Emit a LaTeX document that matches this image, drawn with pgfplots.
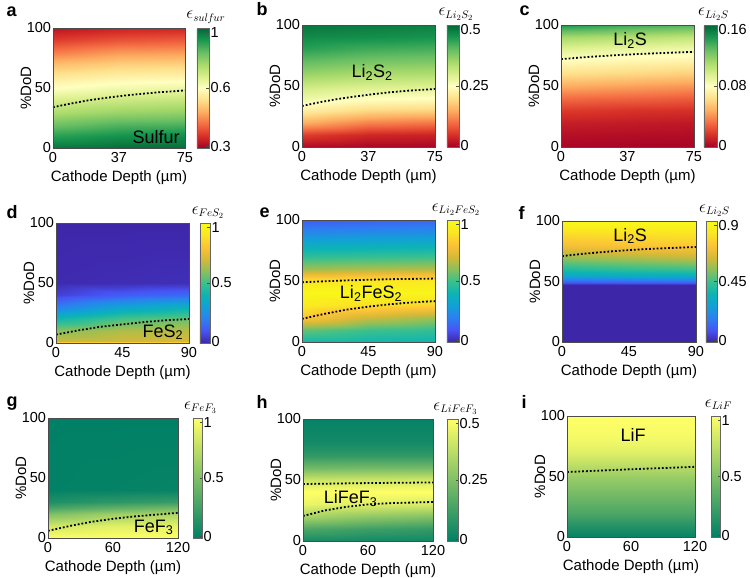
\documentclass[border=0pt]{standalone}
\usepackage{fontspec}
\setmainfont{Liberation Sans}
\usepackage{pgfplots}
\pgfplotsset{compat=1.18}

% colour maps
\pgfplotsset{
  colormap={rdylgn}{rgb255=(165,0,38) rgb255=(215,48,39) rgb255=(244,109,67) rgb255=(253,174,97) rgb255=(254,224,139) rgb255=(255,255,191) rgb255=(217,239,139) rgb255=(166,217,106) rgb255=(102,189,99) rgb255=(26,152,80) rgb255=(0,104,55)},
  colormap={parula}{rgb255=(62,38,168) rgb255=(71,84,245) rgb255=(44,128,240) rgb255=(18,160,215) rgb255=(12,180,180) rgb255=(60,192,140) rgb255=(140,192,90) rgb255=(215,185,55) rgb255=(252,195,55) rgb255=(250,230,35) rgb255=(249,251,21)},
  colormap={summer}{rgb255=(0,128,102) rgb255=(255,255,102)},
}

\newcommand\cbtitle[1]{\fontsize{16}{18}\selectfont$\epsilon_{#1}$}

\pgfplotsset{
  panel/.style={
    scale only axis, anchor=north west,
    enlargelimits=false, axis on top,
    ymin=0, ymax=100, ytick={0,50,100},
    axis line style={draw=black!70, line width=0.8pt},
    major tick length=0pt, tick style={draw=none},
    /pgf/number format/assume math mode=true,
    tick label style={font=\fontsize{14.5}{16}\selectfont},
    yticklabel style={xshift=1.5pt},
    xticklabel style={yshift=-0.5pt},
    xlabel={Cathode Depth (µm)},
    ylabel={\%DoD},
    label style={font=\fontsize{15}{17}\selectfont},
    xlabel style={at={([yshift=-30pt]axis description cs:0.5,0)}, anchor=center},
    ylabel style={at={([xshift=-27pt]axis description cs:0,0.5)}, anchor=center},
    colorbar right,
    colorbar style={
      at={(parent axis.north east)}, anchor=north west,
      axis line style={draw=black!60, line width=0.6pt},
      ytick pos=right, yticklabel pos=right,
      tick align=inside, major tick length=2.5pt,
      tick style={draw=black!70, line width=0.5pt},
      yticklabel style={font=\fontsize{14.5}{16}\selectfont, xshift=-2pt},
      scaled y ticks=false,
      title style={at={(0.5,1)}, anchor=base, yshift=3pt, xshift=3pt},
    },
  },
  heat/.style={surf, shader=interp, point meta=explicit},
  contour line/.style={black, line width=1.8pt, dash pattern=on 1.8pt off 2pt},
}
\tikzset{
  inlabel/.style={font=\fontsize{18}{20}\selectfont, text=black},
  letter/.style={anchor=base west, font=\bfseries\fontsize{18}{20}\selectfont},
}

\begin{document}
\begin{tikzpicture}
\path[use as bounding box] (0,0) rectangle (750pt,-578pt);

% ---------- a: sulfur ----------
\begin{axis}[panel, at={(53pt,-28pt)}, width=132pt, height=120pt,
  xmin=0, xmax=75, xtick={0,37.5,75}, xticklabels={0,37,75},
  colormap name=rdylgn, point meta min=0.3, point meta max=1,
  colorbar shift/.style={xshift=12pt},
  colorbar style={width=12pt, ytick={0.31,0.65,0.975}, yticklabels={0.3,0.6,1},
    title={\cbtitle{sul\mkern-1mu f\mkern-1mu ur}}}]
\addplot[heat, mesh/cols=3] table[row sep=\\, meta=v] {
x y v\\
0 0 0.979\\ 37.5 0 0.99\\ 75 0 0.99\\
0 10 0.916\\ 37.5 10 0.94\\ 75 10 0.95\\
0 20 0.846\\ 37.5 20 0.875\\ 75 20 0.88\\
0 30 0.776\\ 37.5 30 0.80\\ 75 30 0.81\\
0 40 0.72\\ 37.5 40 0.74\\ 75 40 0.75\\
0 50 0.65\\ 37.5 50 0.675\\ 75 50 0.685\\
0 60 0.594\\ 37.5 60 0.615\\ 75 60 0.62\\
0 70 0.531\\ 37.5 70 0.555\\ 75 70 0.56\\
0 80 0.454\\ 37.5 80 0.485\\ 75 80 0.49\\
0 90 0.384\\ 37.5 90 0.41\\ 75 90 0.42\\
0 100 0.328\\ 37.5 100 0.35\\ 75 100 0.355\\
};
\addplot[contour line] coordinates {(0,34) (10,37) (20,39.7) (30,41.8) (40,43.6) (50,45.1) (60,46.4) (75,48)};
\node[inlabel, anchor=base east] at (axis cs:74,4) {Sulfur};
\end{axis}

% ---------- b: Li2S2 ----------
\begin{axis}[panel, at={(302pt,-25pt)}, width=133pt, height=122pt,
  xmin=0, xmax=75, xtick={0,37.5,75}, xticklabels={0,37,75},
  colormap name=rdylgn, point meta min=0, point meta max=0.5,
  colorbar shift/.style={xshift=12pt},
  colorbar style={width=12pt, ytick={0.0075,0.25,0.4825}, yticklabels={0,0.25,0.5},
    title={\cbtitle{Li_2S_2}}}]
\addplot[heat, mesh/cols=3] table[row sep=\\, meta=v] {
x y v\\
0 0 0.01\\ 37.5 0 0.005\\ 75 0 0.005\\
0 10 0.06\\ 37.5 10 0.04\\ 75 10 0.035\\
0 20 0.15\\ 37.5 20 0.115\\ 75 20 0.105\\
0 30 0.225\\ 37.5 30 0.195\\ 75 30 0.19\\
0 40 0.275\\ 37.5 40 0.255\\ 75 40 0.25\\
0 50 0.315\\ 37.5 50 0.30\\ 75 50 0.295\\
0 60 0.36\\ 37.5 60 0.345\\ 75 60 0.34\\
0 70 0.40\\ 37.5 70 0.385\\ 75 70 0.38\\
0 80 0.44\\ 37.5 80 0.425\\ 75 80 0.42\\
0 90 0.465\\ 37.5 90 0.46\\ 75 90 0.455\\
0 100 0.485\\ 37.5 100 0.48\\ 75 100 0.475\\
};
\addplot[contour line] coordinates {(0,33.6) (10,36.7) (20,39.3) (30,41.4) (40,43.3) (50,44.9) (60,46.2) (75,47.5)};
\node[inlabel] at (axis cs:39.5,61) {Li\textsubscript{2}S\textsubscript{2}};
\end{axis}

% ---------- c: Li2S ----------
\begin{axis}[panel, at={(561pt,-25pt)}, width=133pt, height=122pt,
  xmin=0, xmax=75, xtick={0,37.5,75}, xticklabels={0,37,75},
  colormap name=rdylgn, point meta min=0, point meta max=0.16,
  colorbar shift/.style={xshift=10pt},
  colorbar style={width=13pt, ytick={0.0024,0.08,0.1544}, yticklabels={0,0.08,0.16},
    title={\cbtitle{Li_2S}}}]
\addplot[heat, mesh/cols=3] table[row sep=\\, meta=v] {
x y v\\
0 0 0.0016\\ 37.5 0 0.0013\\ 75 0 0.0012\\
0 10 0.005\\ 37.5 10 0.0045\\ 75 10 0.004\\
0 20 0.010\\ 37.5 20 0.009\\ 75 20 0.008\\
0 30 0.019\\ 37.5 30 0.017\\ 75 30 0.016\\
0 40 0.032\\ 37.5 40 0.030\\ 75 40 0.028\\
0 50 0.048\\ 37.5 50 0.045\\ 75 50 0.042\\
0 60 0.064\\ 37.5 60 0.061\\ 75 60 0.058\\
0 70 0.077\\ 37.5 70 0.074\\ 75 70 0.072\\
0 80 0.093\\ 37.5 80 0.089\\ 75 80 0.086\\
0 90 0.112\\ 37.5 90 0.108\\ 75 90 0.104\\
0 100 0.144\\ 37.5 100 0.137\\ 75 100 0.132\\
};
\addplot[contour line] coordinates {(0,72) (15,73.8) (30,75.2) (45,76.3) (60,77.2) (75,78)};
\node[inlabel] at (axis cs:39,87) {Li\textsubscript{2}S};
\end{axis}

% ---------- d: FeS2 ----------
\begin{axis}[panel, at={(56pt,-223pt)}, width=133pt, height=120pt,
  xmin=0, xmax=90, xtick={0,45,90},
  colormap name=parula, point meta min=0, point meta max=1,
  colorbar shift/.style={xshift=11pt},
  colorbar style={width=10pt, ytick={0.015,0.5,0.965}, yticklabels={0,0.5,1},
    title={\cbtitle{FeS_2}}}]
\addplot[heat, mesh/cols=3] table[row sep=\\, meta=v] {
x y v\\
0 0 0.95\\ 45 0 0.95\\ 90 0 0.95\\
0 2 0.68\\ 45 2 0.69\\ 90 2 0.70\\
0 10 0.60\\ 45 10 0.65\\ 90 10 0.66\\
0 20 0.42\\ 45 20 0.52\\ 90 20 0.56\\
0 30 0.20\\ 45 30 0.32\\ 90 30 0.38\\
0 40 0.06\\ 45 40 0.12\\ 90 40 0.15\\
0 50 0.01\\ 45 50 0.015\\ 90 50 0.02\\
0 100 0\\ 45 100 0\\ 90 100 0\\
};
\addplot[contour line] coordinates {(0,7) (15,10.5) (30,13.5) (45,15.5) (60,17.5) (75,19) (90,20)};
\node[inlabel, anchor=base east] at (axis cs:88.5,5) {FeS\textsubscript{2}};
\end{axis}

% ---------- e: Li2FeS2 ----------
\begin{axis}[panel, at={(302pt,-220pt)}, width=133pt, height=122pt,
  xmin=0, xmax=90, xtick={0,45,90},
  colormap name=parula, point meta min=0, point meta max=1,
  colorbar shift/.style={xshift=12pt},
  colorbar style={width=12pt, ytick={0.015,0.5,0.965}, yticklabels={0,0.5,1},
    title={\cbtitle{Li_2FeS_2}}}]
\addplot[heat, mesh/cols=3] table[row sep=\\, meta=v] {
x y v\\
0 0 0.42\\ 45 0 0.41\\ 90 0 0.40\\
0 10 0.55\\ 45 10 0.50\\ 90 10 0.48\\
0 20 0.80\\ 45 20 0.68\\ 90 20 0.62\\
0 30 0.93\\ 45 30 0.88\\ 90 30 0.85\\
0 40 0.98\\ 45 40 0.98\\ 90 40 0.97\\
0 50 0.90\\ 45 50 0.91\\ 90 50 0.92\\
0 60 0.62\\ 45 60 0.64\\ 90 60 0.65\\
0 70 0.48\\ 45 70 0.49\\ 90 70 0.50\\
0 80 0.35\\ 45 80 0.36\\ 90 80 0.37\\
0 90 0.22\\ 45 90 0.23\\ 90 90 0.24\\
0 100 0.12\\ 45 100 0.13\\ 90 100 0.14\\
};
\addplot[contour line] coordinates {(0,49) (30,50.5) (60,51.5) (90,52)};
\addplot[contour line] coordinates {(0,19) (15,23) (30,26.5) (45,29) (60,31) (75,32.5) (90,33.5)};
\node[inlabel] at (axis cs:46.7,40) {Li\textsubscript{2}FeS\textsubscript{2}};
\end{axis}

% ---------- f: Li2S ----------
\begin{axis}[panel, at={(562pt,-221pt)}, width=134pt, height=121pt,
  xmin=0, xmax=90, xtick={0,45,90},
  colormap name=parula, point meta min=0, point meta max=0.9,
  colorbar shift/.style={xshift=10pt},
  colorbar style={width=11pt, ytick={0.0135,0.45,0.8685}, yticklabels={0,0.45,0.9},
    title={\cbtitle{Li_2S}}}]
\addplot[heat, mesh/cols=3] table[row sep=\\, meta=v] {
x y v\\
0 0 0\\ 45 0 0\\ 90 0 0\\
0 47 0\\ 45 47 0\\ 90 47 0\\
0 50 0.108\\ 45 50 0.117\\ 90 50 0.126\\
0 55 0.315\\ 45 55 0.333\\ 90 55 0.342\\
0 60 0.405\\ 45 60 0.432\\ 90 60 0.45\\
0 70 0.558\\ 45 70 0.585\\ 90 70 0.612\\
0 80 0.702\\ 45 80 0.72\\ 90 80 0.738\\
0 90 0.792\\ 45 90 0.801\\ 90 90 0.81\\
0 100 0.891\\ 45 100 0.891\\ 90 100 0.891\\
};
\addplot[contour line] coordinates {(0,71) (15,73) (30,74.6) (45,76) (60,77) (75,77.8) (90,78.5)};
\node[inlabel] at (axis cs:45.7,87.6) {Li\textsubscript{2}S};
\end{axis}

% ---------- g: FeF3 ----------
\begin{axis}[panel, at={(48pt,-418pt)}, width=130pt, height=120pt,
  xmin=0, xmax=120, xtick={0,60,120},
  colormap name=summer, point meta min=0, point meta max=1,
  colorbar shift/.style={xshift=15pt},
  colorbar style={width=9pt, ytick={0.015,0.5,0.965}, yticklabels={0,0.5,1},
    title={\cbtitle{FeF_3}}}]
\addplot[heat, mesh/cols=3] table[row sep=\\, meta=v] {
x y v\\
0 0 1.0\\ 60 0 1.0\\ 120 0 1.0\\
0 10 0.82\\ 60 10 0.88\\ 120 10 0.90\\
0 20 0.50\\ 60 20 0.62\\ 120 20 0.68\\
0 25 0.28\\ 60 25 0.38\\ 120 25 0.45\\
0 30 0.12\\ 60 30 0.18\\ 120 30 0.22\\
0 40 0.01\\ 60 40 0.02\\ 120 40 0.03\\
0 100 0\\ 60 100 0\\ 120 100 0\\
};
\addplot[contour line] coordinates {(0,6) (20,10) (40,13.5) (60,16) (80,18) (100,19.5) (120,21)};
\node[inlabel, anchor=base east] at (axis cs:119,5) {FeF\textsubscript{3}};
\end{axis}

% ---------- h: LiFeF3 ----------
\begin{axis}[panel, at={(303pt,-419pt)}, width=130pt, height=122pt,
  xmin=0, xmax=120, xtick={0,60,120},
  colormap name=summer, point meta min=0, point meta max=0.5,
  colorbar shift/.style={xshift=14pt},
  colorbar style={width=11pt, ytick={0.0075,0.25,0.4825}, yticklabels={0,0.25,0.5},
    title={\cbtitle{LiFeF_3}}}]
\addplot[heat, mesh/cols=3] table[row sep=\\, meta=v] {
x y v\\
0 0 0.04\\ 60 0 0.035\\ 120 0 0.03\\
0 10 0.15\\ 60 10 0.12\\ 120 10 0.10\\
0 20 0.325\\ 60 20 0.275\\ 120 20 0.25\\
0 30 0.46\\ 60 30 0.44\\ 120 30 0.425\\
0 40 0.50\\ 60 40 0.50\\ 120 40 0.50\\
0 50 0.40\\ 60 50 0.405\\ 120 50 0.41\\
0 60 0.225\\ 60 60 0.23\\ 120 60 0.23\\
0 70 0.10\\ 60 70 0.10\\ 120 70 0.10\\
0 80 0.04\\ 60 80 0.04\\ 120 80 0.04\\
0 100 0.01\\ 60 100 0.01\\ 120 100 0.01\\
};
\addplot[contour line] coordinates {(0,46.7) (60,47.5) (120,48)};
\addplot[contour line] coordinates {(0,20.5) (20,25) (40,28) (60,30) (80,31) (100,31.5) (120,32)};
\node[inlabel] at (axis cs:44,35) {LiFeF\textsubscript{3}};
\end{axis}

% ---------- i: LiF ----------
\begin{axis}[panel, at={(567pt,-416pt)}, width=128pt, height=121pt,
  xmin=0, xmax=120, xtick={0,60,120},
  colormap name=summer, point meta min=0, point meta max=1,
  colorbar shift/.style={xshift=16pt},
  colorbar style={width=9pt, ytick={0.015,0.5,0.965}, yticklabels={0,0.5,1},
    title={\cbtitle{LiF}}}]
\addplot[heat, mesh/cols=2] table[row sep=\\, meta=v] {
x y v\\
0 0 0.02\\ 120 0 0.02\\
0 10 0.15\\ 120 10 0.15\\
0 20 0.30\\ 120 20 0.30\\
0 30 0.40\\ 120 30 0.40\\
0 40 0.50\\ 120 40 0.50\\
0 50 0.60\\ 120 50 0.60\\
0 60 0.75\\ 120 60 0.75\\
0 70 0.88\\ 120 70 0.88\\
0 80 0.95\\ 120 80 0.95\\
0 90 0.98\\ 120 90 0.98\\
0 100 1.0\\ 120 100 1.0\\
};
\addplot[contour line] coordinates {(0,53.7) (60,56) (120,58)};
\node[inlabel] at (axis cs:62,84) {LiF};
\end{axis}

% panel letters
\node[letter] at (3pt,-17pt) {a};
\node[letter] at (253pt,-16pt) {b};
\node[letter] at (516pt,-16pt) {c};
\node[letter] at (3pt,-218pt) {d};
\node[letter] at (256pt,-217pt) {e};
\node[letter] at (515pt,-219pt) {f};
\node[letter] at (3pt,-406pt) {g};
\node[letter] at (253pt,-408pt) {h};
\node[letter] at (518pt,-408pt) {i};
\end{tikzpicture}
\end{document}
